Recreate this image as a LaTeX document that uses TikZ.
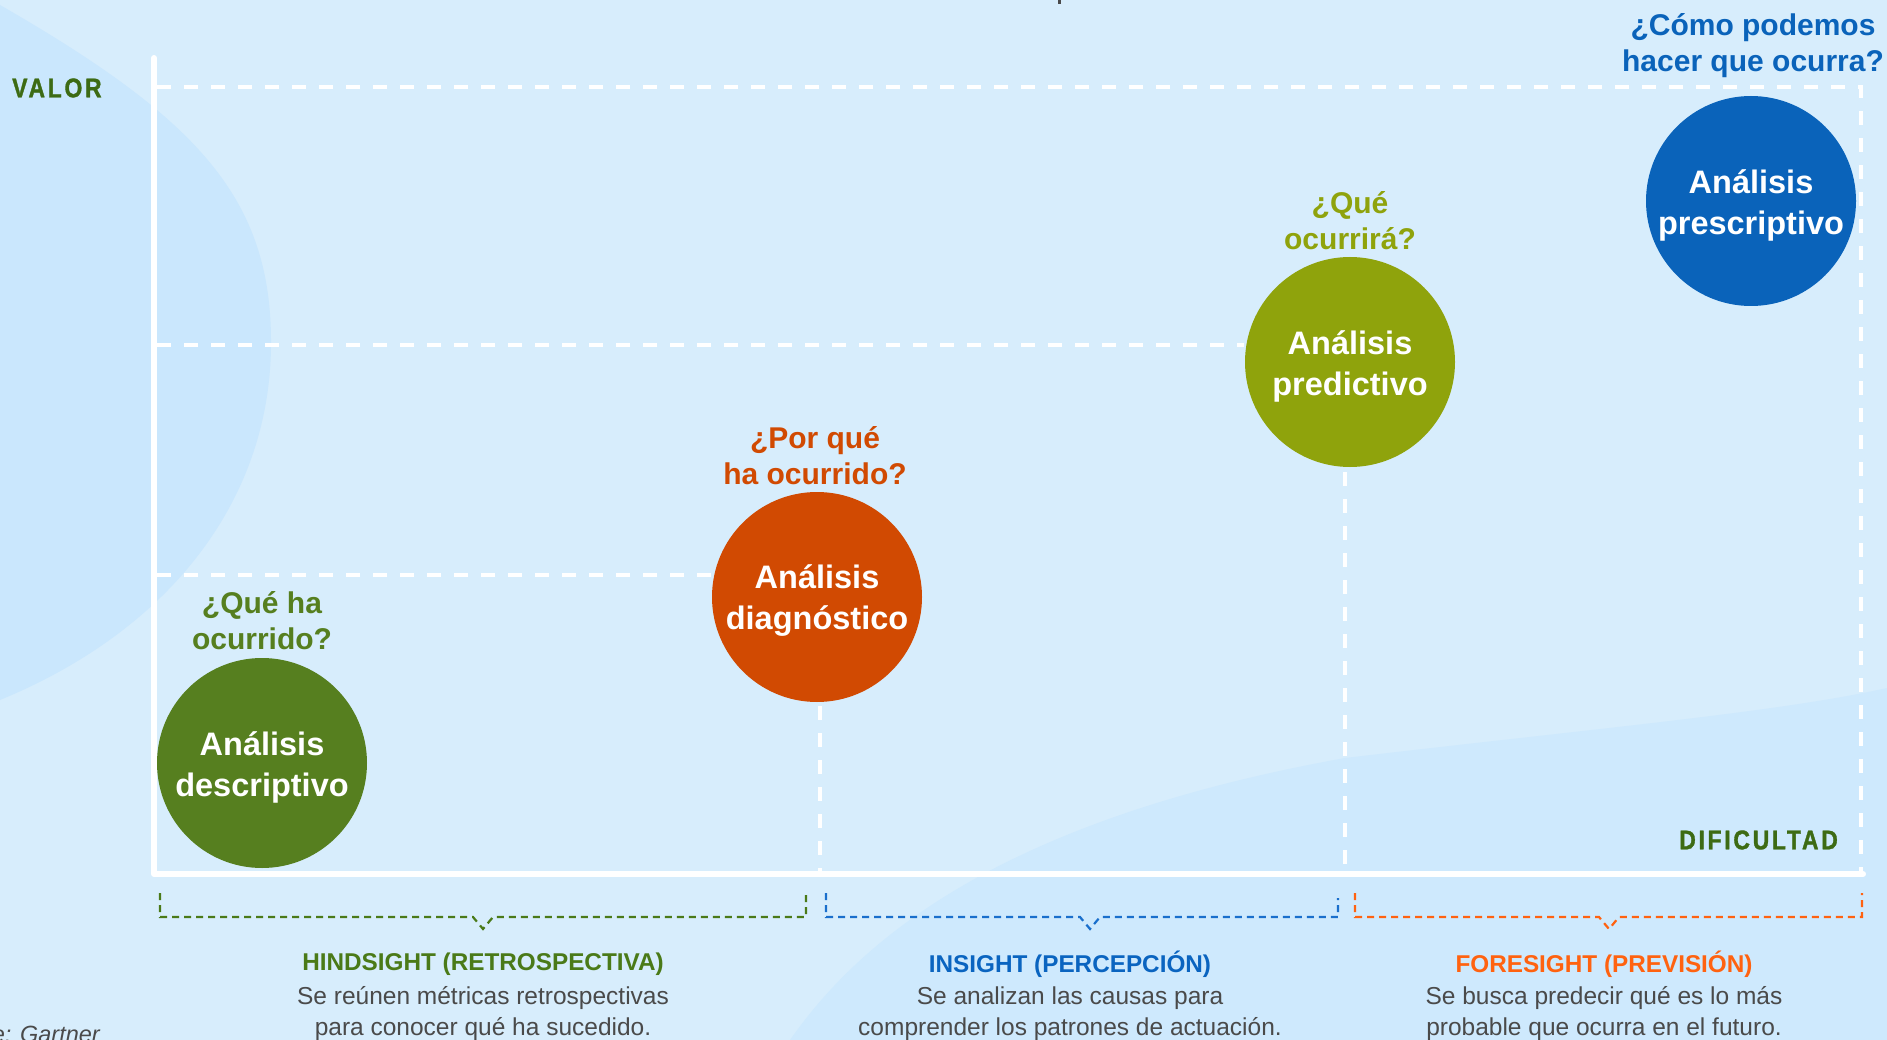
\documentclass[tikz,border=0pt]{standalone}
\usepackage{fontspec}
\setmainfont{Liberation Sans}
\newfontfamily\spacedfont[LetterSpace=10,FakeStretch=0.85,FakeBold=1.2]{Liberation Sans Bold}
\definecolor{bg}{HTML}{D7EDFC}
\definecolor{bgdark}{HTML}{CAE7FD}
\definecolor{bgdarkb}{HTML}{CEE9FD}
\definecolor{gdark}{HTML}{3D6B14}
\definecolor{gcirc}{HTML}{567F1F}
\definecolor{gtitle}{HTML}{4A7A18}
\definecolor{orgc}{HTML}{D14A02}
\definecolor{olive}{HTML}{8FA30C}
\definecolor{bluec}{HTML}{0A63BA}
\definecolor{bluet}{HTML}{0A64C0}
\definecolor{blueb}{HTML}{1A6FCC}
\definecolor{orangeb}{HTML}{FF6210}
\definecolor{grayt}{HTML}{4A4A4A}
\newcommand\circfont{\bfseries\fontsize{32.5}{41}\selectfont}
\newcommand\questfont{\bfseries\fontsize{30}{36}\selectfont}
\newcommand\ttlfont{\bfseries\fontsize{24.3}{29}\selectfont}
\newcommand\descfont{\fontsize{24.5}{31.5}\selectfont}
\newcommand\axfont{\spacedfont\fontsize{27}{30}\selectfont}
\begin{document}
\begin{tikzpicture}[x=1pt,y=-1pt,
  grid/.style={white, line width=4.5pt, dash pattern=on 14pt off 13pt},
  axisline/.style={white, line width=6pt, line cap=round, line join=round},
  circ/.style={circle, minimum size=210pt, inner sep=0pt},
  circtext/.style={text=white, font=\circfont, align=center, inner sep=0pt, yshift=-4pt},
  quest/.style={font=\questfont, align=center, inner sep=0pt},
  brk/.style={line width=2.2pt, dash pattern=on 7pt off 5pt},
  ttl/.style={font=\ttlfont, inner sep=0pt},
  desc/.style={font=\descfont, text=grayt, align=center, inner sep=0pt},
  axlab/.style={font=\axfont, text=gdark, inner sep=0pt}
]
\useasboundingbox (0,0) rectangle (1887,1040);
\begin{scope}
\clip (0,0) rectangle (1887,1040);
% background
\fill[bg] (0,0) rectangle (1887,1040);
\fill[bgdark] (0,5) .. controls (200,120) and (272,200) .. (271,345)
  .. controls (270,500) and (170,630) .. (0,700) -- cycle;
\fill[bgdarkb] (790,1040) .. controls (860,940) and (1000,820) .. (1345,758)
  .. controls (1600,728) and (1780,712) .. (1887,688) -- (1887,1040) -- cycle;

% coordinates
\coordinate (O) at (154,874);
\coordinate (Ytop) at (154,58);
\coordinate (Xend) at (1863,874);

% circles
\node[circ, fill=gcirc, label={[circtext]center:Análisis\\descriptivo}] (desc) at (262,763) {};
\node[circ, fill=orgc, label={[circtext]center:Análisis\\diagnóstico}] (diag) at (817,597) {};
\node[circ, fill=olive, label={[circtext]center:Análisis\\predictivo}] (pred) at (1350,362) {};
\node[circ, fill=bluec, label={[circtext]center:Análisis\\prescriptivo}] (presc) at (1751,201) {};

% grid lines
\coordinate (g1a) at (157,87);
\coordinate (g1b) at (1861,87);
\coordinate (g1c) at (1861,872);
\coordinate (g2a) at (157,345);
\coordinate (g2b) at (1244,345);
\coordinate (g3a) at (157,575);
\coordinate (g3b) at (712,575);
\coordinate (v1a) at (820,706);
\coordinate (v1b) at (820,872);
\coordinate (v2a) at (1345,472);
\coordinate (v2b) at (1345,872);
\draw[grid] (g1a) -- (g1b) -- (g1c);
\draw[grid] (g2a) -- (g2b);
\draw[grid] (g3a) -- (g3b);
\draw[grid] (v1a) -- (v1b);
\draw[grid] (v2a) -- (v2b);

% axes
\draw[axisline] (Ytop) -- (O) -- (Xend);

% axis labels
\node[axlab, anchor=west] (valor) at (12,88) {VALOR};
\node[axlab, anchor=east] (dific) at (1838,840) {DIFICULTAD};

% questions
\node[quest, text=gcirc] (q1) at (262,621) {¿Qué ha\\ocurrido?};
\node[quest, text=orgc] (q2) at (815,456) {¿Por qué\\ha ocurrido?};
\node[quest, text=olive] (q3) at (1350,221) {¿Qué\\ocurrirá?};
\node[quest, text=bluec] (q4) at (1753,46) {¿Cómo podemos\\hacer que ocurra?};

% brackets
\draw[brk, gtitle] (160,893) -- (160,917) -- (473,917) -- (483,929) -- (493,917) -- (806,917) -- (806,893);
\draw[brk, blueb] (826,893) -- (826,917) -- (1080,917) -- (1090,929) -- (1100,917) -- (1338,917) -- (1338,898);
\draw[brk, orangeb] (1355,893) -- (1355,917) -- (1599,917) -- (1609,929) -- (1619,917) -- (1862,917) -- (1862,893);

% titles
\node[ttl, text=gtitle] (t1) at (483,964.5) {HINDSIGHT (RETROSPECTIVA)};
\node[ttl, text=bluet] (t2) at (1070,964.5) {INSIGHT (PERCEPCIÓN)};
\node[ttl, text=orangeb] (t3) at (1604,964.5) {FORESIGHT (PREVISIÓN)};

% descriptions
\node[desc] (d1) at (483,1013.5) {Se reúnen métricas retrospectivas\\para conocer qué ha sucedido.};
\node[desc] (d2) at (1070,1013.5) {Se analizan las causas para\\comprender los patrones de actuación.};
\node[desc] (d3) at (1604,1013.5) {Se busca predecir qué es lo más\\probable que ocurra en el futuro.};

% source and top fragment
\node[font=\itshape\fontsize{23.5}{28}\selectfont, text=grayt, anchor=base east, inner sep=0pt] (src) at (100,1042) {e: Gartner};
\fill[grayt] (1058,0) rectangle (1061,4);
\end{scope}
\end{tikzpicture}
\end{document}
